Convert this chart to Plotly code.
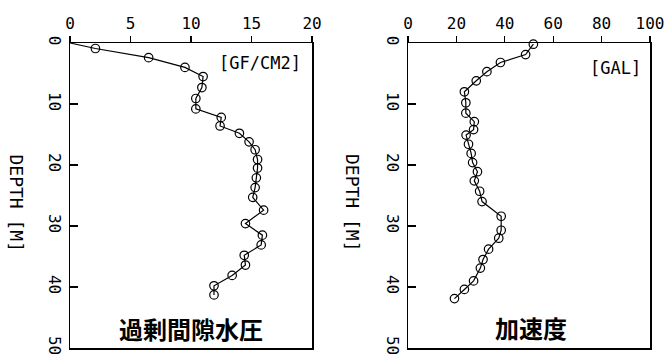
import plotly.graph_objects as go

# Excess pore water pressure [gf/cm2] vs depth [m]
pore_depth = [0, 0.9, 2.4, 4.0, 5.5, 7.3, 9.1, 10.8, 12.2, 13.6, 14.8, 16.2, 17.5, 19.1, 20.5,
              22.1, 23.7, 25.3, 27.4, 29.6, 31.5, 33.1, 34.8, 36.4, 38.1, 39.8, 41.3]
pore_value = [0, 2.1, 6.5, 9.5, 11.0, 10.9, 10.4, 10.4, 12.5, 12.4, 14.0, 14.8, 15.3, 15.5, 15.5,
              15.4, 15.3, 15.1, 16.0, 14.5, 15.9, 15.8, 14.4, 14.5, 13.4, 11.9, 11.9]

# Acceleration [gal] vs depth [m]
acc_depth = [0.2, 1.9, 3.2, 4.7, 6.2, 8.0, 9.8, 11.5, 12.9, 14.2, 15.1, 16.6, 18.1, 19.6, 21.1,
             22.6, 24.3, 26.0, 28.4, 30.7, 32.0, 33.8, 35.5, 36.9, 39.0, 40.4, 41.9]
acc_value = [51.8, 48.6, 38.2, 32.6, 28.2, 23.3, 23.9, 23.9, 27.4, 27.1, 24.0, 25.0, 26.1, 26.7, 28.7,
             27.4, 29.6, 30.6, 38.5, 38.5, 37.5, 33.3, 31.0, 29.9, 27.1, 23.3, 19.2]

pore_ticks = [0, 5, 10, 15, 20]
acc_ticks = [0, 20, 40, 60, 80, 100]
depth_ticks = [0, 10, 20, 30, 40, 50]

MONO = "DejaVu Sans Mono"
CJK = "Noto Sans CJK JP"
W, H = 668, 355

fig = go.Figure()

line_style = dict(color="black", width=1.2)
marker_style = dict(symbol="circle-open", size=8.5, color="black", line=dict(width=1.2))

fig.add_trace(go.Scatter(x=pore_value, y=pore_depth, mode="lines", line=line_style,
                         xaxis="x", yaxis="y", showlegend=False, hoverinfo="skip", cliponaxis=False))
fig.add_trace(go.Scatter(x=pore_value[1:], y=pore_depth[1:], mode="markers", marker=marker_style,
                         xaxis="x", yaxis="y", showlegend=False, cliponaxis=False))
fig.add_trace(go.Scatter(x=acc_value, y=acc_depth, mode="lines+markers", line=line_style,
                         marker=marker_style, xaxis="x2", yaxis="y2", showlegend=False, cliponaxis=False))

xl0, xl1 = 70 / W, 312 / W
xr0, xr1 = 408 / W, 650 / W
yd0, yd1 = 1 - 348 / H, 1 - 43 / H

common_x = dict(side="top", showline=True, linecolor="black", linewidth=1.5, mirror=True,
                ticks="outside", ticklen=6, tickwidth=1.2, tickcolor="black",
                showgrid=False, zeroline=False, automargin=False, ticklabeloverflow="allow",
                tickfont=dict(family=MONO, size=16, color="black"))
common_y = dict(autorange=False, range=[50, 0], tickvals=depth_ticks,
                showline=True, linecolor="black", linewidth=1.5, mirror=True,
                ticks="inside", ticklen=8, tickwidth=1.2, tickcolor="black",
                showgrid=False, zeroline=False, tickangle=90, automargin=False,
                ticklabeloverflow="allow",
                tickfont=dict(family=MONO, size=16, color="black"))

fig.update_layout(
    width=W, height=H,
    margin=dict(l=0, r=0, t=0, b=0, autoexpand=False),
    paper_bgcolor="white", plot_bgcolor="white",
    xaxis=dict(domain=[xl0, xl1], range=[0, 20], tickvals=pore_ticks, anchor="y", **common_x),
    yaxis=dict(domain=[yd0, yd1], anchor="x", **common_y),
    xaxis2=dict(domain=[xr0, xr1], range=[0, 100], tickvals=acc_ticks, anchor="y2", **common_x),
    yaxis2=dict(domain=[yd0, yd1], anchor="x2", **common_y),
)


def label(text, x, y, size, family=MONO, xanchor="center", angle=0):
    return dict(text=text, x=x / W, y=1 - y / H, xref="paper", yref="paper",
                xanchor=xanchor, yanchor="middle", textangle=angle, showarrow=False,
                font=dict(family=family, size=size, color="black"))


ann = [
    label("DEPTH [M]", 16.5, 203, 18, angle=90),
    label("DEPTH [M]", 353, 203, 18, angle=90),
    label("[GF/CM2]", 303, 63, 17, xanchor="right"),
    label("[GAL]", 643, 68, 17, xanchor="right"),
    label("<b>過剰間隙水圧</b>", 191, 328, 24, family=CJK),
    label("<b>加速度</b>", 531, 327, 24, family=CJK),
]
fig.update_layout(annotations=ann)

fig.write_html("out.html", config={"displayModeBar": False, "staticPlot": True},
               post_script="document.body.style.margin='0';document.body.style.overflow='hidden';")
